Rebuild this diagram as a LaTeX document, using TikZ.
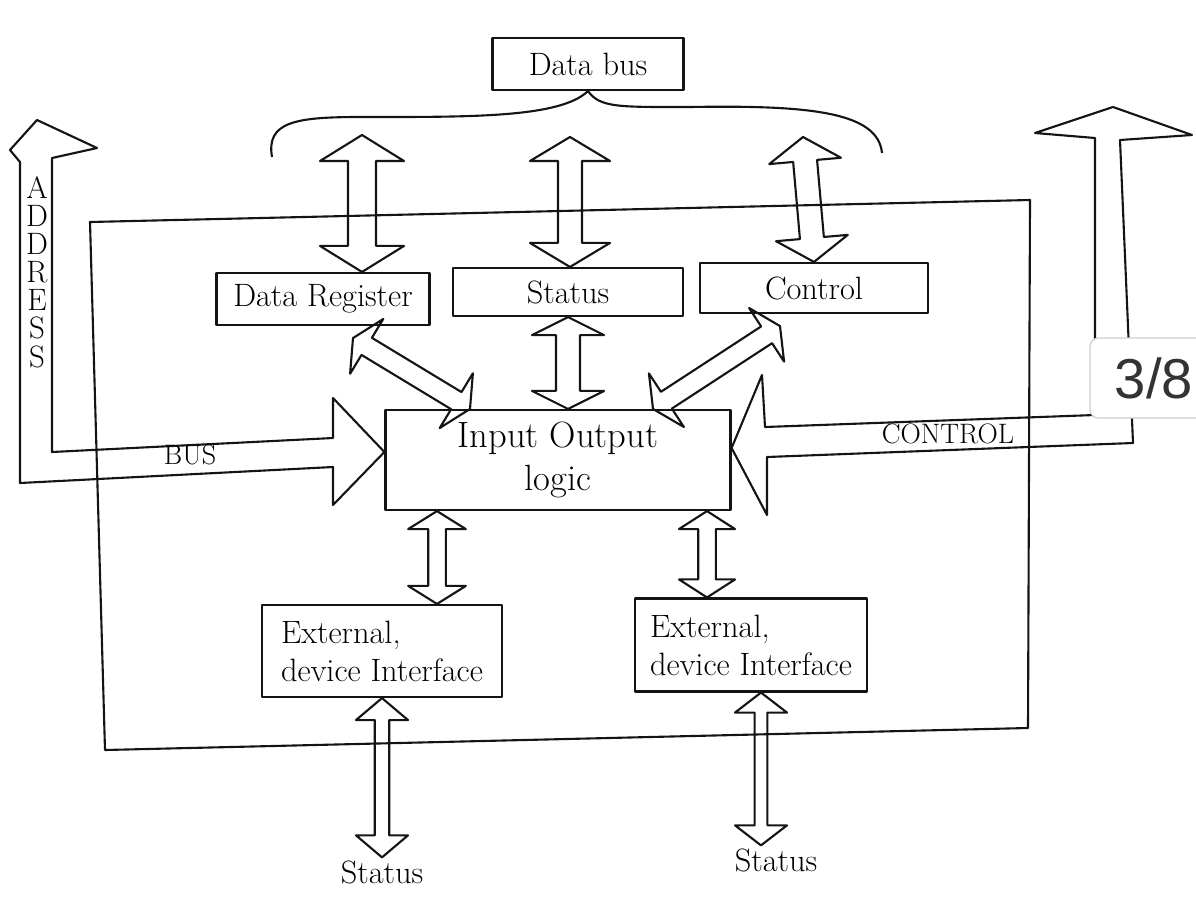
\documentclass[tikz,border=0pt]{standalone}
\usepackage{fontspec}
\usepackage{tikz}
\usetikzlibrary{calc,positioning}
\newfontfamily\pagefont{Liberation Sans}
\definecolor{ink}{RGB}{20,20,20}
\definecolor{tabgrey}{RGB}{205,205,205}
\newcommand{\hand}{\fontsize{23}{27}\selectfont}

% hollow arrow with a head at both ends: shaft, head width, head length, from, to
\newcommand{\fatarrow}[5]{%
  \path (#4) coordinate (fa-s) (#5) coordinate (fa-e);
  \path ($(fa-s)!#3!(fa-e)$) coordinate (fa-a) ($(fa-e)!#3!(fa-s)$) coordinate (fa-b);
  \draw[fatline] (fa-s) -- ($(fa-a)!#2!90:(fa-e)$) -- ($(fa-a)!#1!90:(fa-e)$)
    -- ($(fa-b)!#1!-90:(fa-s)$) -- ($(fa-b)!#2!-90:(fa-s)$) -- (fa-e)
    -- ($(fa-b)!#2!90:(fa-s)$) -- ($(fa-b)!#1!90:(fa-s)$)
    -- ($(fa-a)!#1!-90:(fa-e)$) -- ($(fa-a)!#2!-90:(fa-e)$) -- cycle;}

\begin{document}
\begin{tikzpicture}[
    x=0.025cm, y=-0.025cm,
    inkline/.style={draw=ink, line width=1.5pt, line join=round},
    fatline/.style={inkline},
    regbox/.style={rectangle, inkline, font=\hand, inner sep=2pt},
    lbl/.style={font=\hand, inner sep=2pt},
    buslbl/.style={font=\fontsize{20}{22}\selectfont, inner sep=1pt}
]
\useasboundingbox[fill=white] (0,0) rectangle (1196,896);

% registers and logic
\node[regbox, minimum width=4.775cm, minimum height=1.3cm] (dbus) at (588,64) {Data bus};
\node[regbox, minimum width=5.325cm, minimum height=1.3cm] (dreg) at (323,299) {Data Register};
\node[regbox, minimum width=5.75cm, minimum height=1.2cm] (stat) at (568,292) {Status};
\node[regbox, minimum width=5.7cm, minimum height=1.25cm] (ctrl) at (814,288) {Control};
\node[regbox, minimum width=8.625cm, minimum height=2.5cm, align=center,
      font=\fontsize{26}{31}\selectfont] (iol) at (558,460) {Input Output\\logic};
\node[regbox, minimum width=6cm, minimum height=2.3cm, align=left] (ext1) at (382,651) {External,\\device Interface};
\node[regbox, minimum width=5.8cm, minimum height=2.325cm, align=left] (ext2) at (751,645) {External,\\device Interface};
\node[lbl] (st1) at (382,872) {Status};
\node[lbl] (st2) at (776,860) {Status};

% module frame
\draw[inkline] (90,222) -- (1030,200) -- (1028,728) -- (105,750) -- cycle;

% data bus brace
\draw[inkline] (272,157) .. controls (266,122) and (295,117) .. (360,117)
  .. controls (470,117) and (560,118) .. (dbus.south)
  .. controls (600,108) and (620,107) .. (690,107)
  .. controls (810,105) and (878,112) .. (882,153);
\coordinate (bus1) at (362,135);
\coordinate (bus2) at (570,137);
\coordinate (bus3) at (803,137);

% data bus lines
\fatarrow{0.35cm}{1.05cm}{0.65cm}{bus1}{bus1 |- dreg.north}
\fatarrow{0.3cm}{1cm}{0.6cm}{bus2}{bus2 |- stat.north}
\fatarrow{0.3cm}{0.9cm}{0.6cm}{bus3}{ctrl.north}

% registers to logic
\fatarrow{0.25cm}{0.8cm}{0.4cm}{$(dreg.south)+(30,12)$}{$(iol.north)+(-88,0)$}
\fatarrow{0.3cm}{0.9cm}{0.45cm}{stat.south}{stat.south |- iol.north}
\fatarrow{0.25cm}{0.8cm}{0.4cm}{$(ctrl.south)+(-34,12)$}{$(iol.north)+(95,0)$}

% logic to devices
\fatarrow{0.22cm}{0.72cm}{0.45cm}{$(iol.south)+(-121,0)$}{$(ext1.north)+(55,0)$}
\fatarrow{0.22cm}{0.7cm}{0.45cm}{$(iol.south)+(149,0)$}{$(ext2.north)+(-44,0)$}
\fatarrow{0.18cm}{0.65cm}{0.55cm}{ext1.south}{st1.north}
\fatarrow{0.16cm}{0.65cm}{0.5cm}{$(ext2.south)+(10,0)$}{$(st2.north)+(-15,0)$}

% address bus
\draw[inkline] ($(iol.west)+(0,-8)$) -- (333,398) -- (333,438) -- (52,452) -- (52,158)
  -- (97,148) -- (37,120) -- (10,150) -- (20,162) -- (20,483) -- (333,467)
  -- (333,505) -- cycle;
\node[buslbl, align=center, font=\fontsize{22}{20}\selectfont] (addr) at (37,272) {A\\D\\D\\R\\E\\S\\S};
\node[buslbl] (bus) at (190,455) {BUS};

% control bus
\draw[inkline] ($(iol.east)+(0,-12)$) -- (762,375) -- (765,427) -- (1095,415) -- (1095,138)
  -- (1035,133) -- (1113,107) -- (1192,135) -- (1120,140) -- (1133,443)
  -- (767,457) -- (767,515) -- cycle;
\node[buslbl] (cbus) at (948,434) {CONTROL};

% page tab
\node[draw=tabgrey, fill=white, rounded corners=6pt, line width=0.8pt,
      minimum width=3.2cm, minimum height=2cm, text=black!80,
      font=\pagefont\fontsize{40}{44}\selectfont] (page) at (1154,378) {3/8};
\end{tikzpicture}
\end{document}
